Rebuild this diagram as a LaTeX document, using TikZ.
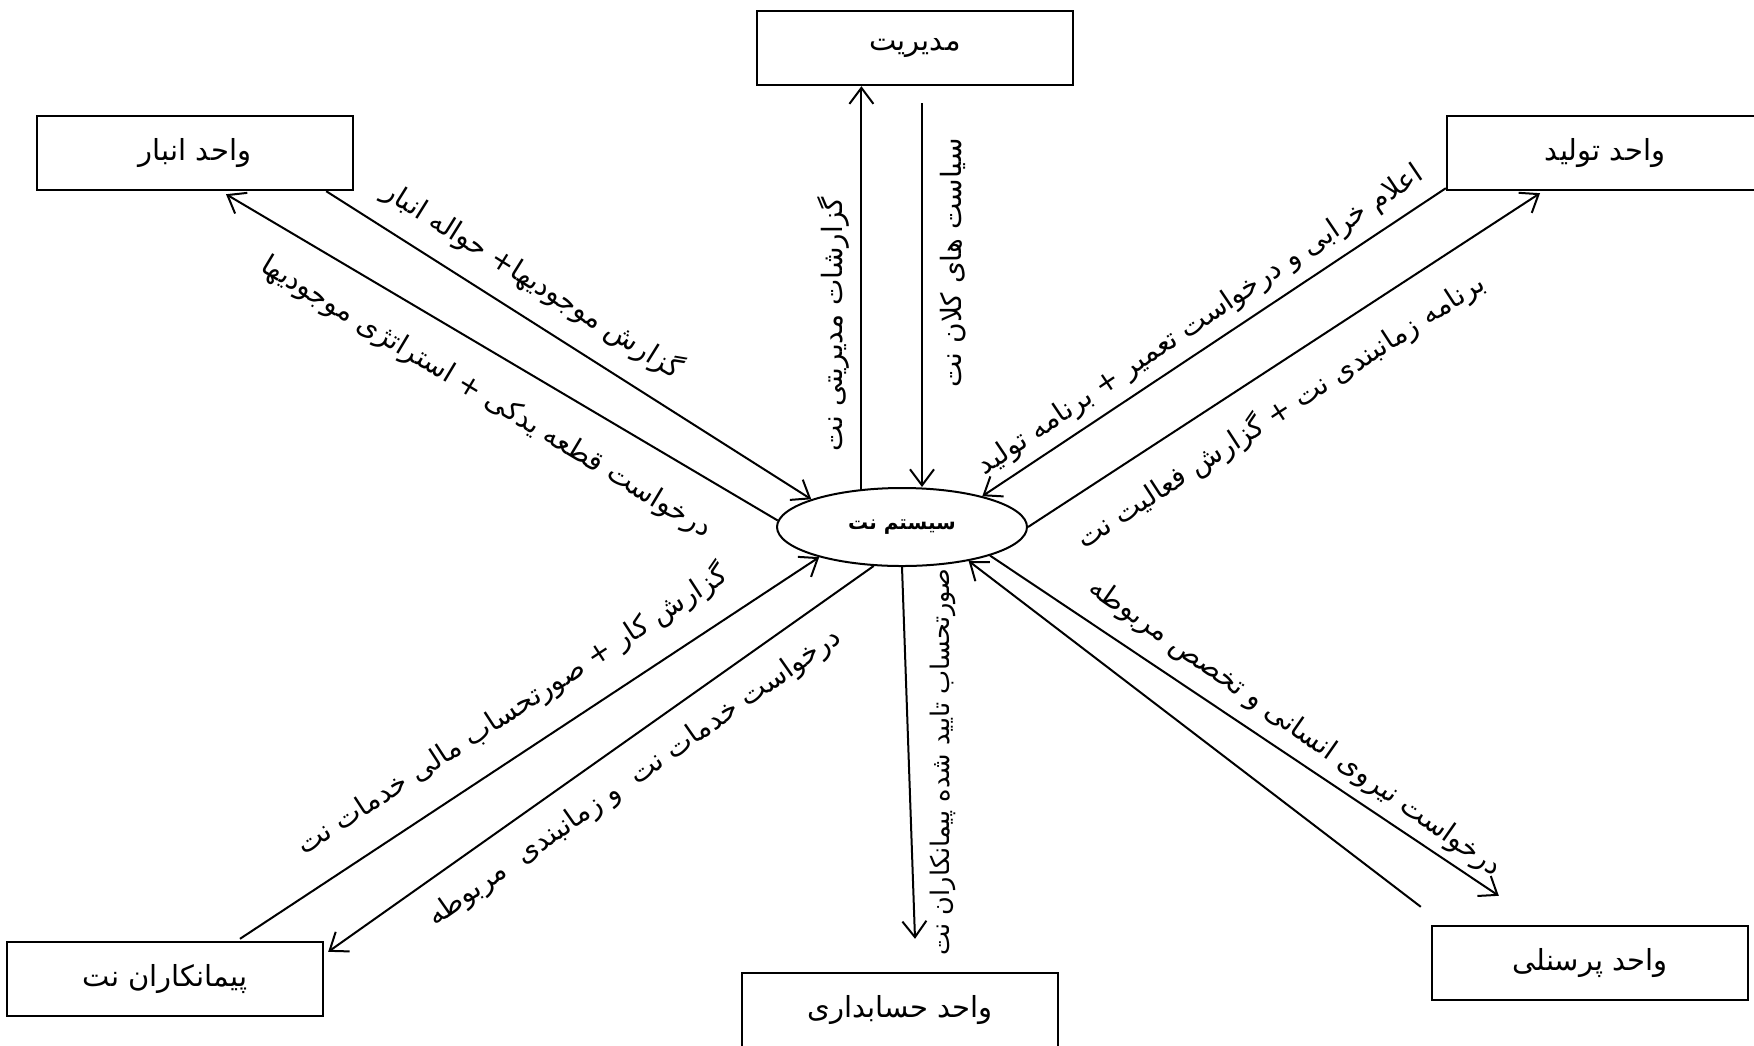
\documentclass[tikz,border=0pt]{standalone}
\usepackage{fontspec}
\usetikzlibrary{shapes.geometric,arrows.meta,calc}
\newfontfamily\arfont[Script=Arabic]{DejaVu Sans}
\TeXXeTstate=1
\newcommand\rtltext[1]{\beginR #1\endR}
\begin{document}
\begin{tikzpicture}[x=0.5pt,y=-0.5pt,
  box/.style={draw, line width=1.2pt, minimum width=158pt, minimum height=37pt, inner sep=0pt,
    font=\arfont\fontsize{14.5}{16}\selectfont},
  lab/.style={inner sep=0pt, font=\arfont\fontsize{14}{16}\selectfont},
  flow/.style={line width=1pt, -{Straight Barb[length=8pt,width=12pt]}}]
\useasboundingbox (0,0) rectangle (1754,1045);
\clip (0,0) rectangle (1754,1045);
% boxes
\node[box] (M) at (915,48) {\rtltext{مدیریت}};
\node[box] (W) at (195,153) {\rtltext{واحد انبار}};
\node[box] (P) at (1605,153) {\rtltext{واحد تولید}};
\node[box] (R) at (1590,963) {\rtltext{واحد پرسنلی}};
\node[box] (A) at (900,1010) {\rtltext{واحد حسابداری}};
\node[box] (C) at (165,979) {\rtltext{پیمانکاران نت}};
\node[draw, ellipse, line width=1pt, minimum width=125pt, minimum height=39pt, inner sep=0pt,
  font=\arfont\bfseries\fontsize{10}{12}\selectfont] (E) at (902,527) {\rtltext{سیستم نت}};
% connectors
\coordinate (m2) at ($(M.south)+(7,17)$);
\draw[flow] (E.137) -- (E.137 |- M.south);
\draw[flow] (m2) -- (m2 |- E.north);
\draw[flow] ($(W.south east)+(-28,0)$) -- (E.163);
\draw[flow] (E.177) -- ($(W.south)+(31,3)$);
\draw[flow] ($(P.south west)+(0,-3)$) -- (E.21);
\draw[flow] (E.east) -- ($(P.south)+(-65,2)$);
\draw[flow] (E.-18) -- ($(R.north west)+(68,-29)$);
\draw[flow] ($(R.north west)+(-10,-18)$) -- (E.-27);
\draw[flow] ($(C.north)+(75,-2)$) -- (E.200);
\draw[flow] (E.234) -- ($(C.north east)+(4,11)$);
\draw[flow] (E.south) -- ($(A.north)+(15,-33)$);
% labels
\node[lab, rotate=90] (l1) at (833,324) {\rtltext{گزارشات مدیریتی نت}};
\node[lab, rotate=90] (l2) at (953,263) {\rtltext{سیاست های کلان نت}};
\node[lab, rotate=-32] (l3) at (533,280) {\rtltext{گزارش موجودیها+ حواله انبار}};
\node[lab, rotate=-31] (l4) at (486,398) {\rtltext{درخواست قطعه یدکی + استراتژی موجودیها}};
\node[lab, rotate=34] (l5) at (1201,321) {\rtltext{اعلام خرابی و درخواست تعمیر + برنامه تولید}};
\node[lab, rotate=33] (l6) at (1281,411) {\rtltext{برنامه زمانبندی نت + گزارش فعالیت نت}};
\node[lab, rotate=-35] (l7) at (1295,728) {\rtltext{درخواست نیروی انسانی و تخصص مربوطه}};
\node[lab, rotate=90, font=\arfont\fontsize{12.8}{15}\selectfont] (l8) at (943,762) {\rtltext{صورتحساب تایید شده پیمانکاران نت}};
\node[lab, rotate=33] (l9) at (512,710) {\rtltext{گزارش کار + صورتحساب مالی خدمات نت}};
\node[lab, rotate=35] (l10) at (635,778) {\rtltext{درخواست خدمات نت\ \ و زمانبندی\ \ مربوطه}};
\end{tikzpicture}
\end{document}
